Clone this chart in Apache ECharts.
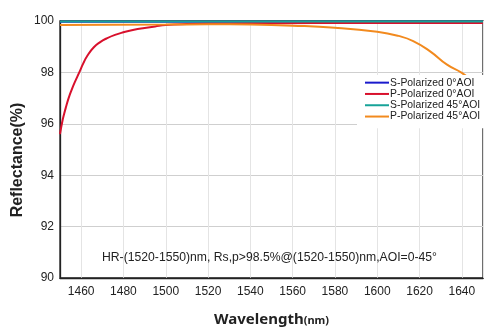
<!DOCTYPE html>
<html><head><meta charset="utf-8">
<script src="https://cdn.jsdelivr.net/npm/echarts@6/dist/echarts.min.js"></script>
<style>html,body{margin:0;padding:0;background:#fff}#c{width:500px;height:334px}</style>
</head><body><div id="c"></div>
<script>
const sPol0 = [[1450,99.97],[1550,99.97],[1650,99.97]];
const pPol0 = [[1450,95.6],[1451,96.05],[1452,96.4],[1453,96.7],[1454,96.98],[1455.5,97.32],[1457,97.62],[1459,97.98],[1461,98.35],[1463,98.66],[1466,98.98],[1469,99.18],[1472,99.32],[1476,99.46],[1480,99.56],[1485,99.66],[1490,99.73],[1495,99.79],[1500,99.84],[1510,99.88],[1520,99.9],[1540,99.91],[1570,99.92],[1650,99.92]];
const sPol45 = [[1450,99.98],[1550,99.98],[1650,99.98]];
const pPol45 = [[1450,99.84],[1500,99.86],[1520,99.87],[1540,99.86],[1560,99.82],[1580,99.74],[1600,99.58],[1610,99.42],[1617,99.22],[1625,98.82],[1633,98.3],[1640,97.98],[1645,97.65],[1650,97.3]];
const seriesNames = ['S-Polarized 0°AOI','P-Polarized 0°AOI','S-Polarized 45°AOI','P-Polarized 45°AOI'];
const seriesColors = ['#1a1acc','#d8102c','#17a398','#f28a1e'];
const annotation = 'HR-(1520-1550)nm, Rs,p>98.5%@(1520-1550)nm,AOI=0-45°';

const chart = echarts.init(document.getElementById('c'));
const dataSets = [sPol0, pPol0, sPol45, pPol45];
chart.setOption({
  animation: false,
  grid: {left: 60, right: 17, top: 21, bottom: 56, show: true, borderColor: '#222', borderWidth: 1.3, backgroundColor: 'transparent'},
  title: {text: annotation, left: 97, top: 247, textStyle: {fontFamily: 'Liberation Sans', fontSize: 12.2, fontWeight: 'normal', color: '#222'}},
  legend: {
    orient: 'vertical', left: 357, top: 75, backgroundColor: '#fff',
    padding: [2, 10, 6, 8], itemWidth: 24, itemHeight: 2, itemGap: 0, icon: 'rect',
    textStyle: {fontFamily: 'Liberation Sans', fontSize: 10.4, color: '#222', lineHeight: 11.3, padding: [0,0,0,-4]},
    data: seriesNames
  },
  xAxis: {
    type: 'value', min: 1450, max: 1650, splitNumber: 10,
    name: '{a|Wavelength}{b|(nm)}', nameLocation: 'middle', nameGap: 34,
    nameTextStyle: {rich: {a: {fontFamily: 'Noto Sans', fontWeight: 'bold', fontSize: 15, color: '#222'}, b: {fontFamily: 'Noto Sans', fontWeight: 'bold', fontSize: 11, color: '#222', padding: [3,0,0,0]}}},
    axisLine: {show: true, lineStyle: {color: '#222', width: 1.3}},
    axisTick: {show: false},
    axisLabel: {fontFamily: 'Liberation Sans', fontSize: 12, color: '#222', margin: 8, showMinLabel: false, showMaxLabel: false, formatter: v => String(v)},
    splitLine: {show: true, lineStyle: {color: '#e4e4e4', width: 1}}
  },
  yAxis: {
    type: 'value', min: 90, max: 100, interval: 2,
    axisLine: {show: true, lineStyle: {color: '#222', width: 1.3}},
    axisTick: {show: false},
    axisLabel: {fontFamily: 'Liberation Sans', fontSize: 12, color: '#222', margin: 6},
    splitLine: {show: true, lineStyle: {color: '#cfcfcf', width: 1}}
  },
  graphic: [{
    type: 'text', x: 18, y: 160, rotation: Math.PI / 2,
    style: {text: 'Reflectance(%)', fontFamily: 'Liberation Sans', fontWeight: 'bold', fontSize: 16, fill: '#222', align: 'center', verticalAlign: 'middle'}
  }],
  series: dataSets.map((d, i) => ({
    name: seriesNames[i], type: 'line', data: d, smooth: true, symbol: 'none',
    lineStyle: {color: seriesColors[i], width: 2}, itemStyle: {color: seriesColors[i]}
  }))
});
</script></body></html>
